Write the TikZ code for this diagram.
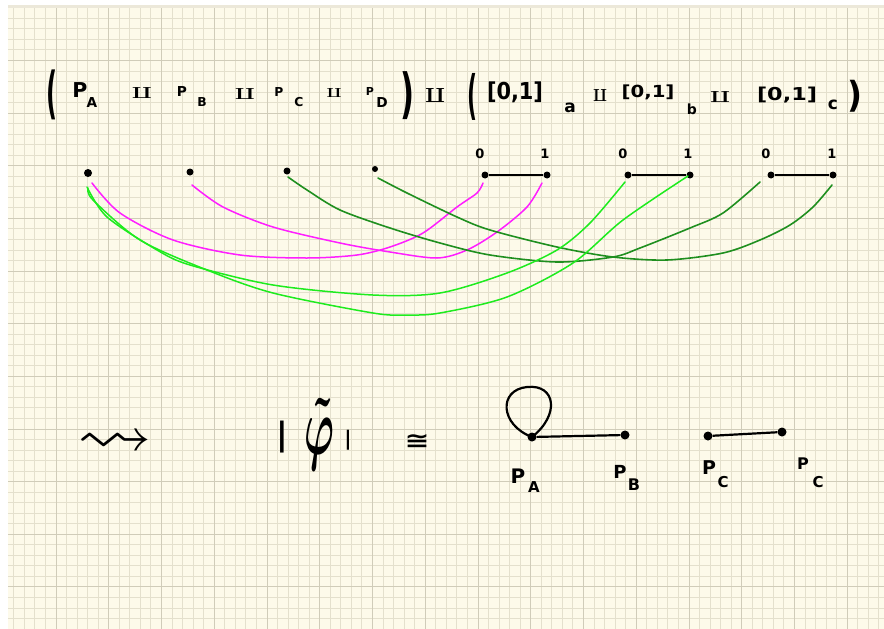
\documentclass[tikz,border=0pt]{standalone}
\usepackage{amssymb}
\usepackage{graphicx}
\usepackage{fontspec}
\setmainfont{DejaVu Sans}
\definecolor{paper}{HTML}{FDFAEA}
\definecolor{paperedge}{HTML}{ECE8D9}
\definecolor{gridminor}{HTML}{E4E0CD}
\definecolor{gridmajor}{HTML}{D0CCB9}
\definecolor{mag}{HTML}{FF1EFF}
\definecolor{lgreen}{HTML}{1EEB1E}
\definecolor{dgreen}{HTML}{1F8F1F}
\newcommand\fsz[1]{\fontsize{#1}{#1}\selectfont}
\newcommand\rsz[3]{\resizebox*{#1pt}{#2pt}{#3}}
\begin{document}
\begin{tikzpicture}[x=1pt,y=-1pt,
  dot/.style={circle,fill=black,inner sep=0pt,minimum size=7pt},
  bigdot/.style={circle,fill=black,inner sep=0pt,minimum size=9pt},
  tok/.style={inner sep=0pt,outer sep=0pt,anchor=center,font=\bfseries\boldmath},
  seg/.style={line width=1.6pt},
  bseg/.style={line width=2.2pt},
  magc/.style={draw=mag,line width=1.5pt,line cap=round},
  lgc/.style={draw=lgreen,line width=1.5pt,line cap=round},
  dgc/.style={draw=dgreen,line width=1.6pt,line cap=round}]
\useasboundingbox (0,0) rectangle (884,629);
% paper
\fill[white] (0,0) rectangle (884,629);
\fill[paper] (8,6) rectangle (884,629);
\fill[paperedge] (8,5) rectangle (884,8);
\foreach \i in {0,...,83}{
  \pgfmathsetmacro\xx{round(13.3+10.55*\i)+0.5}
  \draw[gridminor,line width=1pt] (\xx,8) -- (\xx,629);}
\foreach \k in {-4,...,54}{
  \pgfmathsetmacro\yy{round(60+10.53*\k)+0.5}
  \draw[gridminor,line width=1pt] (8,\yy) -- (884,\yy);}
\foreach \j in {0,...,15}{
  \pgfmathsetmacro\xx{round(55.5+52.75*\j)+0.5}
  \draw[gridmajor,line width=1.2pt] (\xx,8) -- (\xx,629);}
\foreach \j in {0,...,10}{
  \pgfmathsetmacro\yy{round(60+52.65*\j)+0.5}
  \draw[gridmajor,line width=1.2pt] (8,\yy) -- (884,\yy);}

% ---- formula ----
\node[tok] (lp1) at (52,95) {\rsz{11}{50}{(}};
\node[tok] (P1) at (80,90) {\fsz{20.5}P};
\node[tok] (sA) at (92,103) {\fsz{13.7}A};
\node[tok] (u1) at (142,93) {\rsz{20}{11}{$\amalg$}};
\node[tok] (P2) at (182,92) {\fsz{13.7}P};
\node[tok] (sB) at (202,102) {\fsz{12.3}B};
\node[tok] (u2) at (245,94) {\rsz{20}{11}{$\amalg$}};
\node[tok] (P3) at (279,92) {\fsz{12.3}P};
\node[tok] (sC) at (299,102) {\fsz{12.3}C};
\node[tok] (u3) at (334,93) {\rsz{15}{9}{$\amalg$}};
\node[tok] (P4) at (370,91) {\fsz{11}P};
\node[tok] (sD) at (382,103) {\fsz{13.7}D};
\node[tok] (rp1) at (407,96) {\rsz{14}{48}{)}};
\node[tok] (u4) at (435,95) {\rsz{20}{14}{$\amalg$}};
\node[tok] (lp2) at (472,97) {\rsz{10}{47}{(}};
\node[tok] (ia) at (515,92) {\rsz{56}{21}{[0,1]}};
\node[tok] (sa) at (570,108) {\fsz{17}a};
\node[tok] (u5) at (600,95) {\rsz{14}{12}{$\amalg$}};
\node[tok] (ib) at (648,92) {\rsz{53}{15}{[0,1]}};
\node[tok] (sb) at (692,109) {\fsz{14}b};
\node[tok] (u6) at (720,97) {\rsz{20}{11}{$\amalg$}};
\node[tok] (ic) at (787,95) {\rsz{60}{16}{[0,1]}};
\node[tok] (sc) at (833,105) {\fsz{17}c};
\node[tok] (rp2) at (855,96) {\rsz{15}{32}{)}};

% ---- points and intervals ----
\node[dot,minimum size=8pt] (pA) at (88,173) {};
\node[dot] (pB) at (190,172) {};
\node[dot] (pC) at (287,171) {};
\node[dot,minimum size=6pt] (pD) at (375,169) {};
\node[dot] (a0) at (485,175) {};
\node[dot] (a1) at (547,175) {};
\node[dot] (b0) at (628,175) {};
\node[dot] (b1) at (690,175) {};
\node[dot] (c0) at (771,175) {};
\node[dot] (c1) at (833,175) {};
\draw[seg] (a0) -- (a1);
\draw[seg] (b0) -- (b1);
\draw[seg] (c0) -- (c1);
\node[tok] (la0) at (480,154) {\fsz{13}0};
\node[tok] (la1) at (545,154) {\fsz{13}1};
\node[tok] (lb0) at (623,154) {\fsz{13}0};
\node[tok] (lb1) at (688,154) {\fsz{13}1};
\node[tok] (lc0) at (766,154) {\fsz{13}0};
\node[tok] (lc1) at (832,154) {\fsz{13}1};

% curve ends
\coordinate (mAs) at (92,183);
\coordinate (ma0) at (483,183);
\coordinate (mBs) at (192,185);
\coordinate (ma1) at (542,183);
\coordinate (gCs) at (288,177);
\coordinate (gc0) at (760,182);
\coordinate (gDs) at (378,178);
\coordinate (gc1) at (832,185);
\coordinate (lAs) at (87,187);
\coordinate (lAt) at (88,188);
\coordinate (lb0e) at (625,182);
\coordinate (lb1e) at (688,176);

\draw[magc] plot[smooth] coordinates {(mAs) (120,213) (173,240) (240,255) (307,258) (357,255) (390,247) (423,233) (457,207) (477,193) (ma0)};
\draw[magc] plot[smooth] coordinates {(mBs) (223,207) (273,227) (340,243) (390,252) (437,258) (467,250) (497,232) (527,207) (ma1)};
\draw[dgc] plot[smooth] coordinates {(gCs) (307,190) (340,210) (390,228) (440,243) (490,255) (557,262) (613,257) (640,248) (690,228) (723,213) (gc0)};
\draw[dgc] plot[smooth] coordinates {(gDs) (407,193) (457,217) (490,230) (557,247) (613,257) (667,260) (723,253) (760,240) (790,225) (813,207) (gc1)};
\draw[lgc] plot[smooth] coordinates {(lAs) (107,217) (157,250) (190,265) (273,285) (373,295) (440,293) (507,273) (557,250) (590,223) (lb0e)};
\draw[lgc] plot[smooth] coordinates {(lAt) (93,200) (140,240) (207,270) (273,293) (373,313) (407,315) (440,313) (507,297) (573,263) (623,220) (lb1e)};

% ---- bottom row ----
\node[tok] (sq) at (115,444) {\rsz{75}{25}{$\rightsquigarrow$}};
\node[tok] (bar1) at (282,437) {\fsz{32}|};
\node[tok] (phi) at (319,434) {\rsz{30}{72}{$\tilde{\varphi}$}};
\node[tok] (bar2) at (348,440) {\fsz{20}|};
\node[tok] (iso) at (417,441) {\rsz{25}{14}{≅}};

\node[bigdot] (qA) at (532,437) {};
\node[bigdot] (qB) at (625,435) {};
\node[bigdot] (qC) at (708,436) {};
\node[bigdot] (qD) at (782,432) {};
\draw[bseg] (qA) -- (qB);
\draw[bseg] (qC) -- (qD);
\draw[bseg] (qA.center) .. controls (500,425) and (498,390) .. (527,387) .. controls (556,384) and (560,415) .. (qA.center);

\node[tok] (tP1) at (518,476) {\fsz{20}P};
\node[tok] (tA) at (534,487) {\fsz{15}A};
\node[tok] (tP2) at (620,472) {\fsz{18}P};
\node[tok] (tB) at (634,485) {\fsz{16}B};
\node[tok] (tP3) at (709,468) {\fsz{19}P};
\node[tok] (tC) at (723,482) {\fsz{15}C};
\node[tok] (tP4) at (803,464) {\fsz{16}P};
\node[tok] (tC2) at (818,482) {\fsz{15}C};
\end{tikzpicture}
\end{document}
